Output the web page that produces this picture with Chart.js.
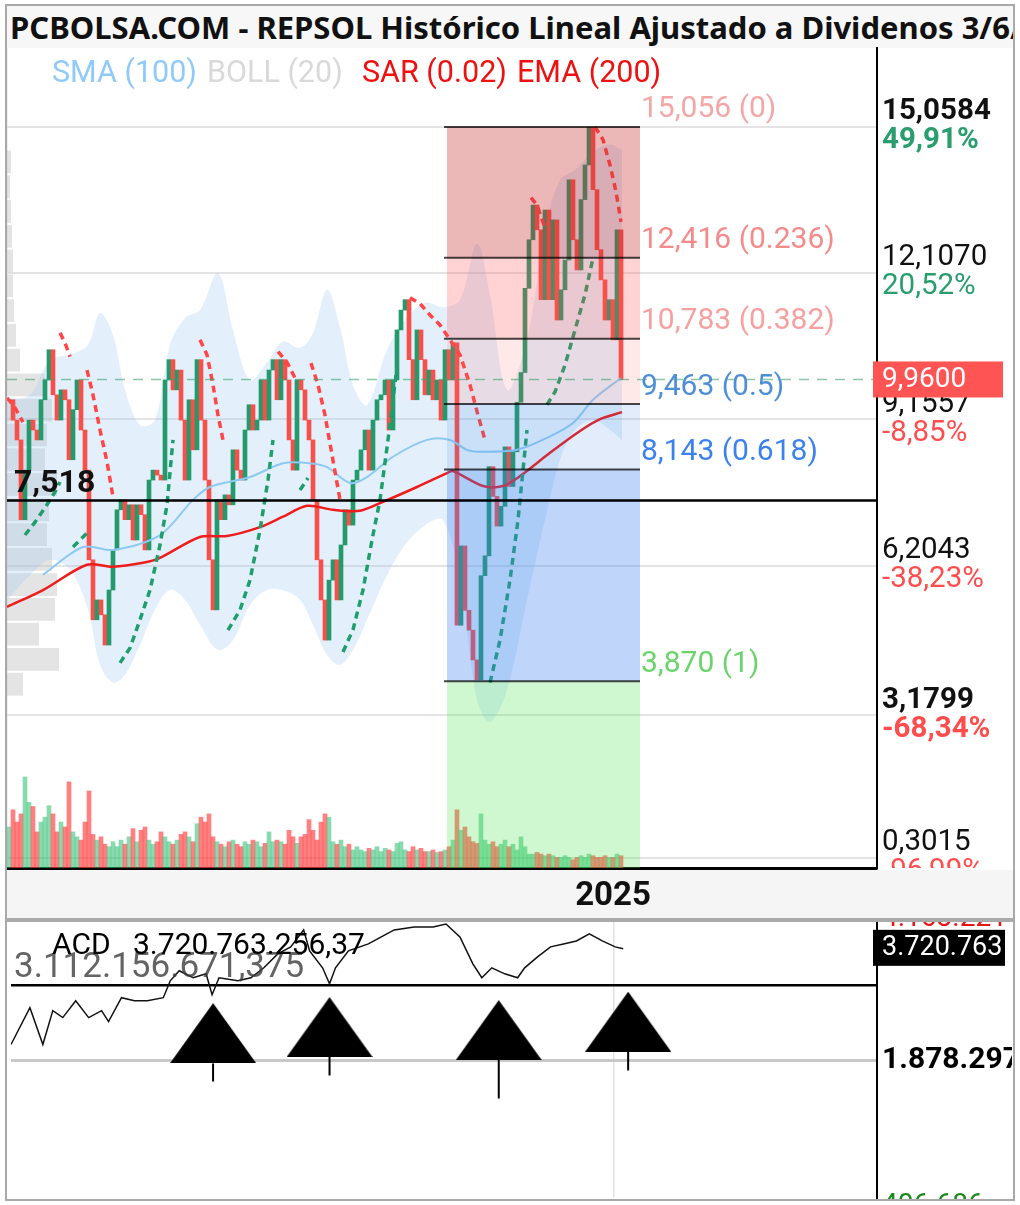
<!DOCTYPE html>
<html><head><meta charset="utf-8">
<script src="https://cdn.jsdelivr.net/npm/chart.js@4.4.1/dist/chart.umd.min.js"></script>
<style>
html,body{margin:0;padding:0;background:#fff;}
#wrap{position:relative;width:1020px;height:1205px;overflow:hidden;background:#fff;}
#frame{position:absolute;left:5px;top:4px;width:1010px;height:1197px;border:2px solid #a9a9a9;box-sizing:border-box;pointer-events:none;z-index:5;}
#title{position:absolute;left:7px;top:6px;width:1006px;height:42px;background:#f7f7f7;overflow:hidden;white-space:nowrap;font:bold 31px 'Noto Sans';line-height:42px;color:#111;padding-left:3px;box-sizing:border-box;}
#strip{position:absolute;left:7px;top:870px;width:1006px;height:48px;background:#f5f5f5;}
#sep{position:absolute;left:5px;top:918px;width:1010px;height:4px;background:#aaa;z-index:2;}
canvas{position:absolute;left:0;}
#main{top:0;}
#acd{top:908px;z-index:3;}
.lg{position:absolute;top:55px;font:30.5px Roboto;line-height:34px;white-space:nowrap;z-index:3;}
</style></head>
<body>
<div id="wrap">
  <div id="title">PCBOLSA.COM - REPSOL Histórico Lineal Ajustado a Dividenos 3/6/2025</div>
  <div id="strip"></div>
  <div id="sep"></div>
  <canvas id="main" width="1020" height="918"></canvas>
  <canvas id="acd" width="1020" height="300"></canvas>
  <span class="lg" style="left:52px;color:#90caf9">SMA (100)</span>
  <span class="lg" style="left:207px;color:#d9d9d9">BOLL (20)</span>
  <span class="lg" style="left:362px;color:#ee1111">SAR (0.02)</span>
  <span class="lg" style="left:517px;color:#ee1111">EMA (200)</span>
  <div id="frame"></div>
</div>
<script>
// ---------- DATA ----------
const yearLabels = ['2025'];
const yearIdx = [151];

// closing prices, one per bar (index 0..153)
const closes = [
9.55, 9.14, 8.74, 7.13, 8.13, 9.14, 8.94, 8.74, 9.55, 9.95,
10.56, 9.65, 9.14, 9.75, 9.55, 8.34, 9.35, 9.95, 8.94, 8.13,
6.32, 5.11, 5.51, 5.21, 4.60, 5.71, 6.52, 7.33, 7.53, 7.13,
7.43, 6.72, 7.43, 7.23, 6.52, 7.93, 8.13, 8.03, 7.93, 9.95,
10.36, 9.75, 10.15, 9.14, 7.93, 9.55, 8.54, 10.36, 9.14, 7.93,
6.32, 5.31, 7.53, 7.13, 7.63, 7.43, 8.54, 8.13, 7.93, 8.94,
9.45, 8.94, 9.14, 9.95, 9.14, 10.15, 10.36, 9.55, 10.36, 9.95,
8.74, 8.13, 9.95, 9.75, 9.14, 8.74, 7.53, 6.32, 5.51, 4.70,
5.91, 6.32, 5.51, 6.62, 7.33, 7.02, 7.93, 8.13, 8.54, 8.94,
8.13, 9.14, 9.55, 9.65, 9.95, 8.94, 9.95, 10.96, 11.36, 11.57,
10.36, 9.55, 10.96, 10.36, 9.65, 10.15, 9.55, 9.95, 9.14, 10.56,
9.95, 10.70, 5.00, 6.60, 5.30, 4.90, 4.30, 3.90, 6.00, 6.40,
8.20, 7.60, 7.00, 7.40, 8.60, 7.80, 8.50, 9.50, 10.10, 11.80,
12.78, 13.48, 12.98, 11.57, 13.38, 11.57, 13.18, 11.16, 11.77, 12.37,
13.99, 12.78, 12.17, 13.59, 14.29, 15.05, 13.79, 12.58, 11.97, 11.16,
11.57, 10.76, 12.98, 9.96
];

const volumes = [
5.0, 7.1, 5.6, 6.6, 11.1, 8.0, 7.5, 4.4, 5.6, 6.2,
7.6, 6.6, 4.4, 5.6, 5.0, 10.5, 4.4, 3.8, 3.4, 5.6,
9.4, 4.1, 3.4, 3.8, 2.9, 2.6, 3.2, 2.6, 3.4, 2.9,
3.8, 4.8, 3.2, 4.6, 5.0, 3.4, 2.9, 3.2, 4.4, 3.8,
3.2, 2.9, 3.4, 4.1, 4.4, 3.8, 3.2, 5.4, 6.2, 5.6,
6.6, 3.8, 3.2, 2.9, 2.6, 3.2, 3.4, 2.9, 2.6, 3.2,
2.9, 3.4, 3.2, 2.6, 3.0, 4.4, 3.2, 3.4, 3.2, 2.9,
4.6, 3.8, 3.0, 3.8, 4.1, 5.9, 4.6, 3.4, 5.6, 6.6,
6.2, 3.2, 2.9, 3.4, 2.6, 2.9, 2.2, 2.6, 2.2, 2.0,
2.4, 2.2, 2.6, 2.0, 2.4, 2.2, 2.0, 3.0, 3.2, 2.2,
2.0, 2.6, 2.2, 2.4, 2.0, 2.0, 2.2, 1.9, 2.0, 2.2,
2.6, 3.4, 7.1, 4.6, 5.0, 3.8, 3.2, 3.0, 6.6, 3.4,
2.9, 3.2, 2.6, 2.9, 3.4, 2.6, 2.9, 2.2, 3.8, 2.6,
1.7, 1.7, 1.9, 1.7, 1.5, 1.7, 1.5, 1.3, 1.3, 1.5,
1.3, 1.0, 1.3, 1.5, 1.3, 1.7, 1.5, 1.3, 1.3, 1.5,
1.3, 1.3, 1.7, 1.5
];

const smaIdx = [8.5, 18.5, 26, 37.75, 46, 50.25, 60.25, 68.5, 75.25, 79.5, 85.25, 89.5, 96, 104.5, 110.25, 114.5, 118.5, 127, 134.5, 141, 146, 153];
const smaVal = [6.02, 6.58, 6.52, 6.82, 7.53, 7.79, 7.99, 8.27, 8.27, 8.19, 7.87, 7.99, 8.40, 8.74, 8.74, 8.54, 8.50, 8.54, 8.78, 9.08, 9.55, 9.99];

const emaIdx = [-0.5, 8.5, 19.5, 26, 33.5, 37.75, 47.75, 54.5, 62.75, 68.5, 74.5, 81, 87.75, 93.5, 102, 109.5, 111, 118.5, 123.5, 127.75, 135.25, 142.75, 147.75, 153.25];
const emaVal = [5.37, 5.71, 6.22, 6.18, 6.26, 6.36, 6.78, 6.80, 6.98, 7.19, 7.41, 7.33, 7.31, 7.49, 7.79, 8.07, 8.11, 7.81, 7.81, 8.01, 8.48, 8.92, 9.16, 9.30];

const bbIdx = [-0.5, 5.25, 10.25, 15.25, 19.75, 22.75, 26, 29, 32.75, 36.5, 40.25, 44, 47.75, 52.25, 56, 60.25, 64.5, 68.5, 72.75, 76, 79.5, 82.75, 86, 89.5, 94.5, 99, 104, 108.5, 112.75, 117, 120.25, 124.5, 129.5, 134, 137.75, 141.5, 146, 150.25, 153.25];
const bbUp  = [9.55, 9.65, 10.36, 10.46, 10.66, 11.30, 10.86, 9.75, 9.04, 9.14, 10.66, 11.20, 11.36, 12.11, 10.96, 9.95, 10.30, 10.72, 10.60, 10.90, 11.77, 11.02, 9.85, 9.45, 10.56, 11.16, 11.51, 11.42, 11.57, 12.70, 11.67, 9.75, 10.76, 12.98, 13.99, 14.19, 14.55, 14.70, 14.59];
const bbLow = [5.51, 6.01, 6.32, 6.12, 5.31, 4.20, 3.84, 4.00, 4.60, 5.31, 5.71, 5.51, 5.01, 4.50, 4.70, 5.41, 5.71, 5.71, 5.51, 5.01, 4.40, 4.20, 4.50, 5.11, 6.01, 6.62, 7.02, 7.12, 5.91, 3.49, 3.05, 3.69, 5.51, 7.12, 8.34, 8.94, 9.14, 8.94, 8.74];

// Parabolic SAR: runs alternate side, first run above price (R)
const sarFirstSide = 'R';
const sarRunLen = [3, 5, 3, 3, 5, 7, 5, 6, 3, 2, 5, 7, 9, 5, 3, 6, 5];
const sarIdx = [-0.5,1.5,3.5, 4,6.5,9,11.5,12.75, 12.75,14,15.25, 16,17.75,19.5, 19.5,21,22.75,24.5,26,
 27.75,30.25,32.75,35.25,37.75,39.5,41, 47.75,49.5,51,52.25,53.5, 54.75,57.75,60.25,62.75,64.75,66,
 67.25,69.5,71.75, 72.75,74.75, 75.5,77.25,79,80.75,82.75, 83.5,86,88.5,90.75,92.75,94.75,96.75,
 100.25,102.75,105.25,107.75,110.25,112.75,115.25,117.25,119, 120.25,122.75,125.25,127.25,129.5,
 130.5,132,134, 134.5,136.5,139,141.5,144,146, 146.5,148.5,150.25,151.75,153];
const sarVal = [9.59,9.39,9.10, 6.82,7.08,7.37,7.69,7.89, 10.90,10.70,10.42, 6.58,6.72,6.86, 10.15,9.65,8.94,8.30,7.59,
 4.24,4.54,5.11,5.71,6.62,7.43,8.74, 10.76,10.46,9.85,9.24,8.74, 4.90,5.31,5.91,6.92,7.93,8.74,
 10.52,10.31,9.95, 7.73,7.97, 10.29,9.85,9.24,8.44,7.53, 4.46,4.91,5.71,6.72,7.53,8.74,10.05,
 11.61,11.49,11.26,11.06,10.76,10.46,9.85,9.24,8.74, 3.84,4.70,5.91,7.12,8.94,
 13.63,13.48,13.02, 9.45,9.71,10.25,10.96,11.67,12.41, 15.06,14.80,14.29,13.75,13.14];

// volume-at-price profile (relative)
const profPrice = [14.35, 13.85, 13.35, 12.85, 12.35, 11.85, 11.35, 10.85, 10.35, 9.85, 9.34, 8.84, 8.34, 7.84, 7.33, 6.83, 6.33, 5.82, 5.32, 4.82, 4.31, 3.81];
const profVol = [4, 3, 4, 5, 6, 6, 7, 9, 13, 38, 45, 40, 38, 50, 42, 40, 45, 50, 48, 32, 52, 16];

// Fibonacci retracement
const fibLevels = [15.056, 12.416, 10.783, 9.463, 8.143, 3.870];
const fibRatios = ['0', '0.236', '0.382', '0.5', '0.618', '1'];
const fibStartIdx = 109.5, fibEndIdx = 157.75;
const pivotLevel = 7.518;
const lastPrice = 9.96;

// right axis
const axisVals = [15.0584, 12.1070, 9.1557, 6.2043, 3.1799, 0.3015];
const axisPct = ['49,91%', '20,52%', '-8,85%', '-38,23%', '-68,34%', '-96,99%'];
const axisBold = [true, false, false, false, true, false];

// ACD panel (billions)
const acdIdx = [-0.5, 4.25, 7.5, 10, 12.5, 15.75, 19, 22.25, 24, 27.25, 30.5, 33.75, 37.75, 39.5, 41.75, 45.25, 48.5, 50, 51.75, 56.5, 59.75, 63, 66.5, 69.75, 73, 74.5, 77.75, 79.5, 81, 84.25, 89.25, 92.5, 95.75, 100.75, 105.5, 108.75, 112.25, 115.5, 117.75, 120.25, 123.5, 126.75, 128.5, 131.75, 135, 138.25, 141.5, 144.75, 148, 151.25, 153.25];
const acdVal = [2.143, 2.751, 2.143, 2.702, 2.587, 2.866, 2.587, 2.702, 2.521, 2.915, 2.866, 2.866, 2.915, 3.194, 3.359, 3.244, 3.309, 2.965, 3.244, 3.194, 3.244, 3.408, 3.638, 3.753, 4.032, 3.687, 3.408, 3.145, 3.408, 3.687, 3.802, 3.917, 4.032, 4.081, 4.081, 4.130, 3.917, 3.474, 3.244, 3.408, 3.309, 3.244, 3.408, 3.588, 3.753, 3.802, 3.851, 3.966, 3.851, 3.753, 3.721];
const acdMin = -0.371, acdMax = 4.1632;
const acdRef = 3.112156671375;
const acdGridVal = 1.878297;
const acdLast = 3.720763256;
const sigIdx = [50.25, 79.5, 122, 154.5];
const sigVal = [2.331, 2.430, 2.381, 2.520];
const stemTop = [1.830, 1.945, 1.896, 2.028];
const stemBot = [1.535, 1.633, 1.255, 1.716];

// ---------- STYLE ----------
const UP = '#24996a', DN = '#f6504a';
const fibZoneColors = ['rgba(200,50,50,0.35)','rgba(255,80,80,0.25)','rgba(255,100,100,0.15)','rgba(60,130,220,0.15)','rgba(60,130,240,0.33)','rgba(80,230,80,0.27)'];
const fibTextColors = ['#f3a6a6','#f58a8a','#f7a0a0','#4d8fd6','#3b82ee','#6ad46a'];
const comma = (v, d) => v.toFixed(d).replace('.', ',');

const candleColors = closes.map((c, i) => (i === 0 || c >= closes[i - 1]) ? UP : DN);
const volColors = candleColors.map(c => c === UP ? 'rgba(40,190,110,0.55)' : 'rgba(255,60,60,0.65)');

function sarData(side) {
  const out = []; let k = 0; let s = sarFirstSide;
  sarRunLen.forEach(len => {
    for (let j = 0; j < len; j++) { if (s === side) out.push({x: sarIdx[k], y: sarVal[k]}); k++; }
    if (s === side) out.push({x: sarIdx[k - 1] + 0.01, y: null});
    s = s === 'R' ? 'G' : 'R';
  });
  return out;
}
const pts = (xs, ys) => xs.map((x, k) => ({x, y: ys[k]}));

const mainPlugin = {
  id: 'mainDeco',
  beforeDatasetsDraw(chart) {
    const {ctx, chartArea: a, scales: {y}} = chart;
    const maxV = Math.max(...profVol);
    ctx.save();
    ctx.fillStyle = 'rgba(185,185,185,0.38)';
    profPrice.forEach((p, k) => {
      const y1 = y.getPixelForValue(p + 0.23), y2 = y.getPixelForValue(p - 0.23);
      ctx.fillRect(a.left, y1, profVol[k] / maxV * 52, y2 - y1);
    });
    ctx.restore();
  },
  afterDatasetsDraw(chart) {
    const {ctx, chartArea: a, scales: {x, y}} = chart;
    const x1 = x.getPixelForValue(fibStartIdx), x2 = x.getPixelForValue(fibEndIdx);
    const bounds = fibLevels.concat([y.min]);
    ctx.save();
    ctx.beginPath(); ctx.rect(a.left, a.top, a.right - a.left, a.bottom - a.top); ctx.clip();
    for (let k = 0; k < fibZoneColors.length; k++) {
      const ya = y.getPixelForValue(bounds[k]), yb = y.getPixelForValue(bounds[k + 1]);
      ctx.fillStyle = fibZoneColors[k];
      ctx.fillRect(x1, ya, x2 - x1, yb - ya);
    }
    ctx.strokeStyle = 'rgba(0,0,0,0.72)'; ctx.lineWidth = 2;
    fibLevels.forEach(l => {
      const py = y.getPixelForValue(l);
      ctx.beginPath(); ctx.moveTo(x1 - 3, py); ctx.lineTo(x2, py); ctx.stroke();
    });
    const pv = y.getPixelForValue(pivotLevel);
    ctx.strokeStyle = '#000'; ctx.lineWidth = 2.5;
    ctx.beginPath(); ctx.moveTo(a.left, pv); ctx.lineTo(a.right, pv); ctx.stroke();
    const pp = y.getPixelForValue(lastPrice);
    ctx.strokeStyle = 'rgba(60,160,110,0.6)'; ctx.lineWidth = 1.5; ctx.setLineDash([10, 8]);
    ctx.beginPath(); ctx.moveTo(a.left, pp); ctx.lineTo(a.right, pp); ctx.stroke();
    ctx.setLineDash([]);
    ctx.textBaseline = 'middle'; ctx.textAlign = 'left'; ctx.font = '30px Roboto';
    fibLevels.forEach((l, k) => {
      ctx.fillStyle = fibTextColors[k];
      ctx.fillText(comma(l, 3) + ' (' + fibRatios[k] + ')', x2 + 1, y.getPixelForValue(l) - 17);
    });
    ctx.fillStyle = '#111'; ctx.font = 'bold 32px Roboto';
    ctx.fillText(comma(pivotLevel, 3), a.left + 7, pv - 16);
    ctx.restore();
  },
  afterDraw(chart) {
    const {ctx, chartArea: a, scales: {y}} = chart;
    ctx.save();
    ctx.beginPath(); ctx.rect(0, 0, 1012, a.bottom); ctx.clip();
    ctx.textBaseline = 'middle'; ctx.textAlign = 'left';
    axisVals.forEach((v, k) => {
      const py = y.getPixelForValue(v);
      ctx.font = (axisBold[k] ? 'bold ' : '') + '29.5px Roboto';
      ctx.fillStyle = '#111';
      ctx.fillText(comma(v, 4), a.right + 5, py - 15);
      ctx.fillStyle = axisPct[k].startsWith('-') ? '#ff4d4d' : '#2a9d6f';
      ctx.fillText(axisPct[k], a.right + 5, py + 14);
    });
    const pp = y.getPixelForValue(lastPrice);
    ctx.fillStyle = '#ff5454'; ctx.fillRect(a.right - 4, pp - 18, 130, 36);
    ctx.fillStyle = '#fff'; ctx.font = '28px Roboto';
    ctx.fillText(comma(lastPrice, 4), a.right + 5, pp + 1);
    ctx.restore();
  }
};

new Chart(document.getElementById('main'), {
  type: 'bar',
  data: { datasets: [
    { type: 'line', data: pts(bbIdx, bbUp), fill: '+1', backgroundColor: 'rgba(150,200,245,0.27)', borderWidth: 0, pointRadius: 0, tension: 0.35, order: 20 },
    { type: 'line', data: pts(bbIdx, bbLow), fill: false, borderWidth: 0, pointRadius: 0, tension: 0.35, order: 19 },
    { type: 'bar', yAxisID: 'yv', data: volumes.map((v, i) => ({x: i, y: v})), backgroundColor: volColors, grouped: false, barPercentage: 1, categoryPercentage: 1, order: 15 },
    { type: 'bar', data: closes.map((c, i) => ({x: i, y: [i ? closes[i - 1] : c, c]})), backgroundColor: candleColors, grouped: false, barPercentage: 1, categoryPercentage: 1, order: 10 },
    { type: 'line', data: pts(emaIdx, emaVal), borderColor: '#ee1c1c', borderWidth: 2.5, pointRadius: 0, tension: 0.3, order: 6 },
    { type: 'line', data: pts(smaIdx, smaVal), borderColor: '#8ec9f4', borderWidth: 2, pointRadius: 0, tension: 0.3, order: 5 },
    { type: 'line', data: sarData('R'), borderColor: '#ff4545', borderWidth: 3.5, borderDash: [7, 5], pointRadius: 0, spanGaps: false, order: 4 },
    { type: 'line', data: sarData('G'), borderColor: '#1e9e6a', borderWidth: 3.5, borderDash: [7, 5], pointRadius: 0, spanGaps: false, order: 4 }
  ]},
  options: {
    responsive: false, animation: false, devicePixelRatio: 1, events: [],
    layout: { padding: { left: 7, top: 48, right: 0, bottom: 0 } },
    plugins: { legend: { display: false }, tooltip: { enabled: false } },
    scales: {
      x: { type: 'linear', min: -0.5, max: 217, offset: false,
        afterBuildTicks: s => { s.ticks = yearIdx.map(v => ({value: v})); },
        ticks: { callback: (v, i) => yearLabels[i], autoSkip: false, maxRotation: 0, padding: 9,
                 font: { family: 'Roboto', size: 33, weight: 'bold' }, color: '#111' },
        grid: { color: '#e2e2e2', lineWidth: 1.5, drawTicks: false },
        border: { color: '#000', width: 3 },
        afterFit: s => { s.height = 50; } },
      y: { position: 'right', min: 0.10, max: 16.65,
        afterBuildTicks: s => { s.ticks = axisVals.map(v => ({value: v})); },
        ticks: { display: false },
        grid: { color: '#e4e4e4', lineWidth: 2, drawTicks: false },
        border: { color: '#000', width: 2 },
        afterFit: s => { s.width = 143; } },
      yv: { display: false, min: 0, max: 100 }
    }
  },
  plugins: [mainPlugin]
});

// ---------- ACD ----------
const tri = document.createElement('canvas');
tri.width = 86; tri.height = 60;
(function () { const c = tri.getContext('2d'); c.fillStyle = '#000'; c.beginPath(); c.moveTo(43, 0); c.lineTo(86, 60); c.lineTo(0, 60); c.closePath(); c.fill(); })();

const stemData = [];
sigIdx.forEach((v, k) => { stemData.push({x: v, y: stemTop[k]}, {x: v, y: stemBot[k]}, {x: v + 0.01, y: null}); });

const acdPlugin = {
  id: 'acdDeco',
  beforeDraw(chart) {
    const {ctx, chartArea: a} = chart;
    ctx.save(); ctx.beginPath(); ctx.rect(0, a.top, chart.width, chart.height - a.top); ctx.clip();
  },
  afterDraw(chart) {
    const {ctx, chartArea: a, scales: {y}} = chart;
    ctx.restore();
    ctx.save();
    ctx.beginPath(); ctx.rect(0, a.top, 1012, a.bottom + 2 - a.top); ctx.clip();
    ctx.textBaseline = 'middle'; ctx.textAlign = 'left';
    ctx.fillStyle = 'rgba(60,60,60,0.8)'; ctx.font = '35px Roboto';
    ctx.fillText('3.112.156.671,375', 14, a.top + 46);
    ctx.fillStyle = '#000'; ctx.font = '30px Roboto';
    ctx.fillText('ACD', 52, a.top + 24);
    ctx.fillText('3.720.763.256,37', 133, a.top + 24);
    ctx.fillStyle = '#ee1111'; ctx.font = '28px Roboto';
    ctx.fillText('4.163.221', a.right + 5, a.top - 3);
    const pl = y.getPixelForValue(acdLast);
    ctx.fillStyle = '#000'; ctx.fillRect(a.right - 4, pl - 19, 132, 36);
    ctx.fillStyle = '#fff'; ctx.font = '27px Roboto';
    ctx.fillText('3.720.763', a.right + 5, pl - 1);
    ctx.fillStyle = '#000'; ctx.font = 'bold 30px Roboto';
    ctx.fillText('1.878.297', a.right + 5, y.getPixelForValue(acdGridVal));
    ctx.fillStyle = '#1a8a1a'; ctx.font = '28px Roboto';
    ctx.fillText('406.686', a.right + 5, a.bottom + 9);
    ctx.restore();
  }
};

new Chart(document.getElementById('acd'), {
  type: 'line',
  data: { datasets: [
    { data: pts(acdIdx, acdVal), borderColor: '#111', borderWidth: 1.5, pointRadius: 0, tension: 0, order: 3 },
    { data: stemData, borderColor: '#000', borderWidth: 2, pointRadius: 0, spanGaps: false, order: 2 },
    { data: pts(sigIdx, sigVal), showLine: false, pointStyle: tri, pointRadius: 10, order: 1 }
  ]},
  options: {
    responsive: false, animation: false, devicePixelRatio: 1, events: [],
    layout: { padding: { left: 7, top: 14, right: 0, bottom: 10 } },
    plugins: { legend: { display: false }, tooltip: { enabled: false } },
    scales: {
      x: { type: 'linear', min: -0.5, max: 217,
        afterBuildTicks: s => { s.ticks = yearIdx.map(v => ({value: v})); },
        ticks: { display: false },
        grid: { color: '#e2e2e2', lineWidth: 1.5, drawTicks: false },
        border: { display: false },
        afterFit: s => { s.height = 0; } },
      y: { position: 'right', min: acdMin, max: acdMax,
        afterBuildTicks: s => { s.ticks = [acdGridVal, acdRef].map(v => ({value: v})); },
        ticks: { display: false },
        grid: { color: c => c.tick && c.tick.value > 3 ? '#000' : '#c8c8c8', lineWidth: c => c.tick && c.tick.value > 3 ? 2.5 : 3, drawTicks: false },
        border: { color: '#000', width: 2 },
        afterFit: s => { s.width = 143; } }
    }
  },
  plugins: [acdPlugin]
});
</script>
</body></html>
